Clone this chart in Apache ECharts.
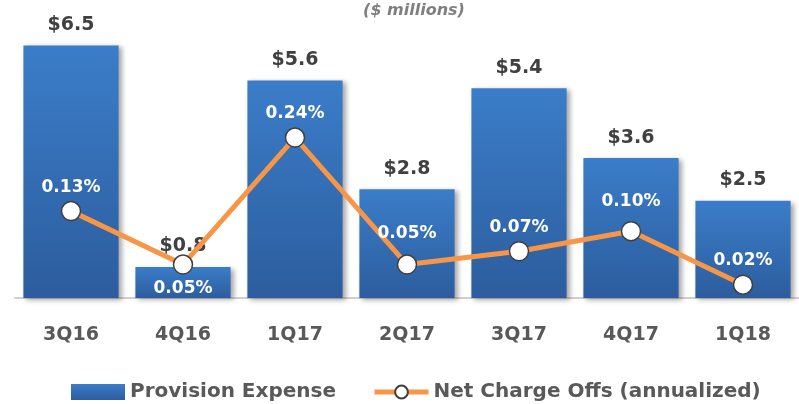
<!DOCTYPE html>
<html>
<head>
<meta charset="utf-8">
<script src="https://cdn.jsdelivr.net/npm/echarts@6/dist/echarts.min.js"></script>
<style>
  html, body { margin: 0; padding: 0; background: #fff; }
</style>
</head>
<body>
<div id="chart" style="width: 799px; height: 404px"></div>
<script>
const quarters = ['3Q16', '4Q16', '1Q17', '2Q17', '3Q17', '4Q17', '1Q18'];
const provisionExpense = [6.5, 0.8, 5.6, 2.8, 5.4, 3.6, 2.5];
const netChargeOffs = [0.13, 0.05, 0.24, 0.05, 0.07, 0.10, 0.02];

const font = 'DejaVu Sans';
// label placement tweaks for the percent labels (index -> label style)
const pctLabelTweaks = {
  1: { position: 'bottom', distance: 5 },
  3: { distance: 12 },
  5: { distance: 11 }
};
const myChart = echarts.init(document.getElementById('chart'));

myChart.setOption({
  animation: false,
  title: {
    text: '($ millions)',
    left: 409,
    top: -2,
    textAlign: 'center',
    textStyle: { color: '#7f7f7f', fontStyle: 'italic', fontWeight: 'bold', fontSize: 16, fontFamily: font }
  },
  grid: { left: 15, right: -5, top: 26, bottom: 106 },
  legend: {
    top: 377,
    left: 66,
    itemWidth: 54,
    itemHeight: 16,
    itemGap: 36,
    textStyle: { color: '#595959', fontWeight: 'bold', fontSize: 20, fontFamily: font },
    data: [
      { name: 'Provision Expense', icon: 'rect' },
      { name: 'Net Charge Offs (annualized)', lineStyle: { width: 5 } }
    ]
  },
  xAxis: {
    type: 'category',
    data: quarters,
    axisLine: { lineStyle: { color: '#d0d0d0', width: 2 } },
    axisTick: { show: false },
    axisLabel: { color: '#595959', fontWeight: 'bold', fontSize: 19, fontFamily: font, margin: 28 }
  },
  yAxis: [
    { type: 'value', min: 0, max: 7, show: false },
    { type: 'value', min: 0, max: 0.407, show: false }
  ],
  series: [
    {
      name: 'Provision Expense',
      type: 'bar',
      data: provisionExpense,
      barCategoryGap: '15%',
      itemStyle: {
        color: new echarts.graphic.LinearGradient(0, 0, 0, 1, [
          { offset: 0, color: '#3b7dc9' },
          { offset: 1, color: '#2c5d9e' }
        ]),
        shadowColor: 'rgba(0,0,0,0.35)',
        shadowBlur: 5,
        shadowOffsetX: 3,
        shadowOffsetY: 2
      },
      label: {
        show: true,
        position: 'top',
        distance: 11,
        formatter: p => '$' + p.value.toFixed(1),
        color: '#404040',
        fontWeight: 'bold',
        fontSize: 19,
        fontFamily: font
      },
      z: 1
    },
    {
      name: 'Net Charge Offs (annualized)',
      type: 'line',
      yAxisIndex: 1,
      data: netChargeOffs.map((v, i) => ({
        value: v,
        label: pctLabelTweaks[i] || {}
      })),
      lineStyle: { color: '#f79646', width: 5 },
      itemStyle: { color: '#ffffff', borderColor: '#404040', borderWidth: 1.5 },
      symbol: 'circle',
      symbolSize: 19,
      label: {
        show: true,
        position: 'top',
        distance: 5,
        formatter: p => p.value.toFixed(2) + '%',
        color: '#ffffff',
        fontWeight: 'bold',
        fontSize: 17,
        fontFamily: font
      },
      z: 3
    }
  ]
});
</script>
</body>
</html>
